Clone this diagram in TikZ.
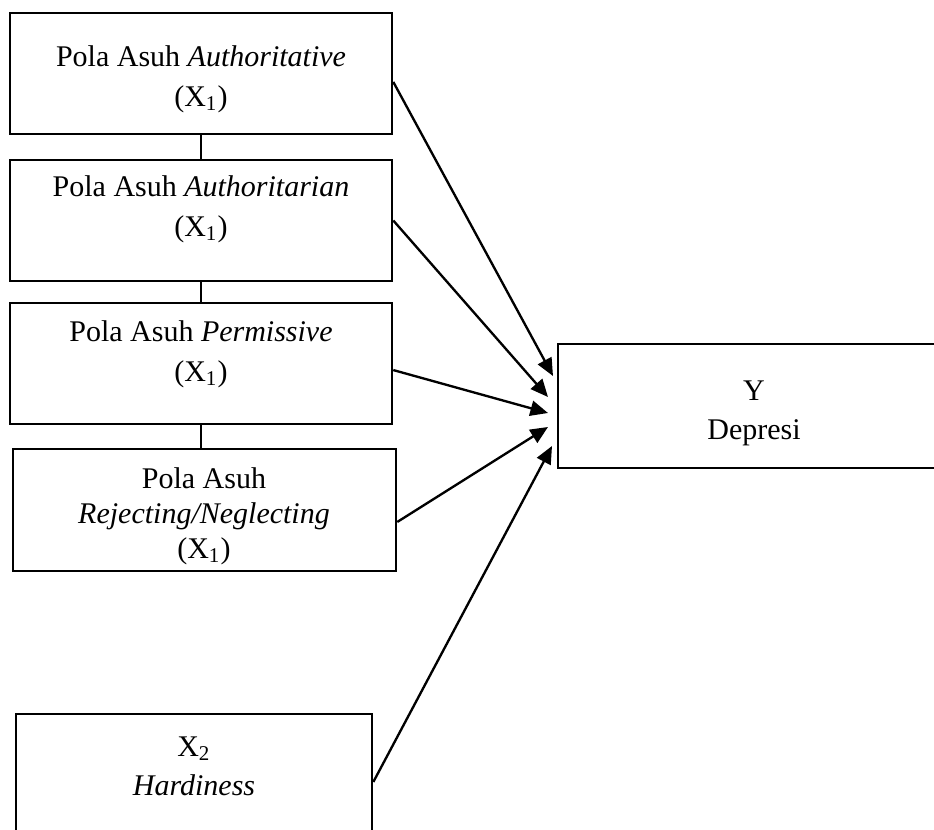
\documentclass[tikz,border=0pt]{standalone}
\usepackage{fontspec}
\setmainfont{Liberation Serif}
\usepackage{tikz}
\usetikzlibrary{positioning,arrows.meta}

\begin{document}
\begin{tikzpicture}[x=0.015cm,y=-0.015cm,
  box/.style={draw,line width=1.1pt,minimum width=5.73cm,minimum height=1.815cm,inner sep=0pt},
  txt/.style={align=center,inner sep=0pt,anchor=north,font=\fontsize{12.8}{17}\selectfont},
  link/.style={line width=0.5pt},
  arr/.style={line width=1pt,-{Triangle[length=7.5pt,width=6.5pt]}}]
\useasboundingbox (0,0) rectangle (934,830);
\clip (0,0) rectangle (934,830);
% boxes
\node[box] (b1) at (201,73.5) {};
\node[box] (b2) at (201,220.5) {};
\node[box] (b3) at (201,363.5) {};
\node[box,minimum width=5.745cm,minimum height=1.83cm] (b4) at (204.5,510) {};
\node[box,minimum width=5.34cm,minimum height=2.04cm] (b5) at (194,782) {};
\node[box,minimum width=5.88cm,minimum height=1.86cm] (y) at (754,406) {};
% texts
\node[txt] (t1) at (201,45) {Pola Asuh \textit{Authoritative}\\(X\textsubscript{1})};
\node[txt] (t2) at (201,175) {Pola Asuh \textit{Authoritarian}\\(X\textsubscript{1})};
\node[txt] (t3) at (201,320) {Pola Asuh \textit{Permissive}\\(X\textsubscript{1})};
\node[txt,font=\fontsize{12.8}{15}\selectfont] (t4) at (204,467) {Pola Asuh\\\textit{Rejecting/Neglecting}\\(X\textsubscript{1})};
\node[txt] (t5) at (194,736) {X\textsubscript{2}\\\textit{Hardiness}};
\node[txt] (ty) at (754,380) {Y\\Depresi};
% arrow ends
\coordinate (e1) at (553,376);
\coordinate (e2) at (548,397);
\coordinate (e3) at (548,413);
\coordinate (e4) at (548,427);
\coordinate (e5) at (552,446);
% links
\draw[link] (b1.south) -- (b2.north);
\draw[link] (b2.south) -- (b3.north);
\draw[link] (b3.south) -- (b3.south |- b4.north);
% arrows
\draw[arr] ([yshift=-3.6pt]b1.east) -- (e1);
\draw[arr] (b2.east) -- (e2);
\draw[arr] ([yshift=-2.8pt]b3.east) -- (e3);
\draw[arr] ([yshift=-5.1pt]b4.east) -- (e4);
\draw[arr] (b5.east) -- (e5);
\end{tikzpicture}
\end{document}
